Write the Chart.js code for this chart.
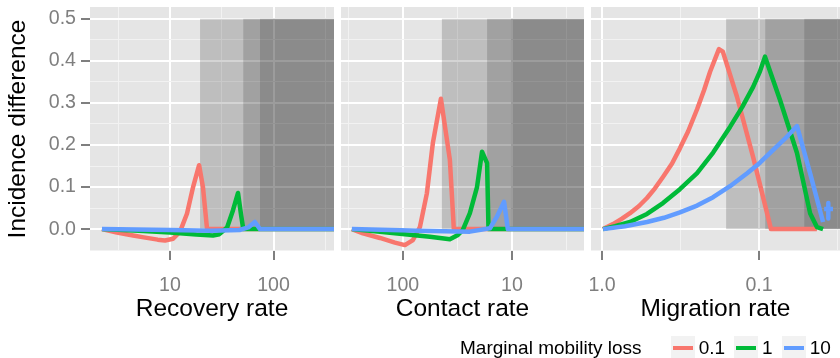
<!DOCTYPE html>
<html>
<head>
<meta charset="utf-8">
<script src="https://cdn.jsdelivr.net/npm/chart.js@4.4.1/dist/chart.umd.min.js"></script>
<style>
  html, body { margin: 0; padding: 0; background: #fff; }
  #wrap { position: relative; width: 840px; height: 358px; overflow: hidden; }
  #wrap canvas { position: absolute; left: 0; top: 0; }
  #legend {
    position: absolute; left: 460px; top: 336px; height: 24px;
    display: flex; align-items: center; white-space: nowrap;
    font-family: 'Liberation Sans', Arial, sans-serif; font-size: 19px; line-height: 24px; color: #000;
  }
  #legend .title { margin-right: 29px; }
  #legend .key { position: relative; width: 24px; height: 24px; background: #F2F2F2; }
  #legend .key i { position: absolute; left: 2px; right: 2px; top: 10px; height: 4px; }
  #legend .lab { margin-left: 4px; margin-right: 9px; }
</style>
</head>
<body>
<div id="wrap">
  <canvas id="recoveryChart" width="840" height="358"></canvas>
  <canvas id="contactChart" width="840" height="358"></canvas>
  <canvas id="migrationChart" width="840" height="358"></canvas>
  <div id="legend"></div>
</div>
<script>
// --- Series: marginal mobility loss ---
const lossLabels = ['0.1', '1', '10'];
const lossColors = ['#F8766D', '#00BA38', '#619CFF'];

// --- Shared y axis ---
const yMin = -0.052;
const yMax = 0.528;
const yTicks = [-0.05, 0, 0.05, 0.1, 0.15, 0.2, 0.25, 0.3, 0.35, 0.4, 0.45, 0.5];
const yTickLabels = ['', '0.0', '', '0.1', '', '0.2', '', '0.3', '', '0.4', '', '0.5'];
const shadeRange = [0, 0.5];

// --- Recovery rate panel ---
const recoveryRange = [1.686, 384];
const recoveryTicks = [3.162, 10, 31.62, 100, 316.2];
const recoveryTickLabels = ['', '10', '', '100', ''];
const recoveryShade = [19.5, 51, 74];
const recoveryX01 = [2.2, 3.07, 4.4, 5.4, 6.4, 7.6, 8.95, 10.7, 12.5, 14.6, 16.7, 19.1, 20.8, 22.8, 384];
const recoveryY01 = [0, -0.008, -0.015, -0.019, -0.022, -0.025, -0.027, -0.023, -0.006, 0.037, 0.1, 0.152, 0.1, 0, 0];
const recoveryX1 = [2.2, 5, 10, 18, 26, 30, 35.6, 40.6, 45.4, 48.5, 51, 384];
const recoveryY1 = [0, -0.004, -0.008, -0.013, -0.015, -0.012, 0.004, 0.045, 0.086, 0.035, 0, 0];
const recoveryX10 = [2.2, 10, 25, 47, 57, 66, 74, 384];
const recoveryY10 = [0, -0.002, -0.004, -0.002, 0.004, 0.017, 0, 0];

// --- Contact rate panel (reversed) ---
const contactRange = [2.18, 370];
const contactTicks = [316.2, 100, 31.62, 10, 3.162];
const contactTickLabels = ['', '100', '', '10', ''];
const contactShade = [43.9, 16.9, 10.2];
const contactX01 = [294, 232.6, 162.5, 118.4, 96, 80.9, 69.8, 60.3, 53.1, 44.8, 37.1, 34.1, 2.18];
const contactY01 = [0, -0.01, -0.021, -0.032, -0.038, -0.026, 0.005, 0.085, 0.205, 0.31, 0.165, 0, 0];
const contactX1 = [294, 162.5, 96, 56.5, 37.1, 31.3, 28.2, 24.3, 20.9, 18.8, 16.9, 16.4, 2.18];
const contactY1 = [0, -0.006, -0.012, -0.018, -0.024, -0.014, -0.002, 0.038, 0.1, 0.184, 0.157, 0, 0];
const contactX10 = [294, 69.8, 24.3, 15.9, 13.7, 11.8, 10.9, 2.18];
const contactY10 = [0, -0.004, -0.006, 0.002, 0.03, 0.065, 0, 0];

// --- Migration rate panel (reversed) ---
const migrationRange = [0.0305, 1.175];
const migrationTicks = [1, 0.3162, 0.1, 0.03162];
const migrationTickLabels = ['1.0', '', '0.1', ''];
const migrationShade = [0.162, 0.0913, 0.0515];
const migrationX01 = [0.985, 0.851, 0.746, 0.663, 0.581, 0.517, 0.460, 0.409, 0.358, 0.319, 0.283, 0.248, 0.224, 0.205, 0.188, 0.180, 0.170, 0.138, 0.109, 0.0889, 0.0839, 0.0428];
const migrationY01 = [0, 0.012, 0.025, 0.038, 0.055, 0.074, 0.097, 0.124, 0.156, 0.192, 0.232, 0.285, 0.33, 0.374, 0.41, 0.428, 0.422, 0.314, 0.171, 0.038, 0, 0];
const migrationX1 = [0.985, 0.826, 0.663, 0.517, 0.409, 0.319, 0.248, 0.196, 0.153, 0.128, 0.109, 0.0986, 0.0916, 0.0735, 0.0573, 0.0473, 0.0428, 0.0391];
const migrationY1 = [0, 0.007, 0.017, 0.036, 0.062, 0.095, 0.133, 0.182, 0.243, 0.29, 0.338, 0.375, 0.41, 0.307, 0.181, 0.038, 0.005, 0];
const migrationX10 = [0.985, 0.714, 0.517, 0.403, 0.319, 0.248, 0.196, 0.153, 0.119, 0.0986, 0.0815, 0.0683, 0.0573, 0.0473, 0.0391, 0.0385, 0.0385, 0.0338, 0.0362, 0.0362, 0.0362];
const migrationY10 = [0, 0.007, 0.017, 0.027, 0.04, 0.056, 0.076, 0.102, 0.133, 0.158, 0.188, 0.215, 0.245, 0.133, 0.017, null, 0.048, 0.048, null, 0.062, 0.025];

// --- Styling ---
const FONT = "'Liberation Sans', Arial, Helvetica, sans-serif";
Chart.defaults.font.family = FONT;
const shadeFills = ['rgba(0,0,0,0.17)', 'rgba(0,0,0,0.15)', 'rgba(0,0,0,0.135)'];
const tickGrey = '#7F7F7F';

function points(xs, ys) {
  return xs.map((x, i) => ({ x: x, y: ys[i] }));
}

function setTicks(values, labels) {
  return scale => {
    scale.ticks = values.map((v, i) => ({ value: v, isMajor: labels[i] !== '' }));
  };
}

// keep the plot areas exactly where the layout padding puts them
function noOverflow(s) {
  s.paddingTop = 0; s.paddingBottom = 0; s.paddingLeft = 0; s.paddingRight = 0;
}

const isMajor = ctx => !!(ctx.tick && ctx.tick.isMajor);
const gridOpts = {
  color: ctx => isMajor(ctx) ? '#FFFFFF' : '#F2F2F2',
  lineWidth: ctx => isMajor(ctx) ? 2 : 1,
  tickColor: ctx => isMajor(ctx) ? tickGrey : 'rgba(0,0,0,0)',
  tickWidth: 2,
  tickLength: 9
};

// background + shaded regions, placed through the chart's own scales
const panelPainter = {
  id: 'panelPainter',
  beforeDraw(chart) {
    const { ctx, chartArea: a } = chart;
    ctx.save();
    ctx.fillStyle = '#E5E5E5';
    ctx.fillRect(a.left, a.top, a.width, a.height);
    ctx.restore();
  },
  beforeDatasetsDraw(chart, args, opts) {
    const { ctx, chartArea: a, scales: { x, y } } = chart;
    const top = y.getPixelForValue(shadeRange[1]);
    const bottom = y.getPixelForValue(shadeRange[0]);
    ctx.save();
    opts.starts.forEach((s, i) => {
      const left = x.getPixelForValue(s);
      ctx.fillStyle = shadeFills[i];
      ctx.fillRect(left, top, a.right - left, bottom - top);
    });
    ctx.restore();
  }
};

function makePanel(id, cfg) {
  const datasets = cfg.series.map((s, i) => ({
    label: lossLabels[i],
    data: points(s[0], s[1]),
    borderColor: lossColors[i],
    backgroundColor: lossColors[i],
    borderWidth: 4.5,
    pointRadius: 0,
    tension: 0,
    borderJoinStyle: 'round',
    spanGaps: false,
    clip: 0,
    order: 3 - i
  }));

  const yAxis = {
    type: 'linear',
    min: yMin,
    max: yMax,
    afterBuildTicks: setTicks(yTicks, yTickLabels),
    border: { display: false },
    grid: Object.assign({}, gridOpts, { drawTicks: cfg.showY }),
    ticks: {
      display: cfg.showY,
      autoSkip: false,
      padding: 5,
      color: tickGrey,
      font: { size: 19.6 },
      callback: (v, i) => yTickLabels[i]
    },
    title: {
      display: cfg.showY,
      text: 'Incidence difference',
      color: '#000',
      font: { size: 24.5 },
      padding: { top: 4, bottom: 0 }
    },
    afterFit: s => { s.width = cfg.showY ? 90 : 0; noOverflow(s); }
  };

  return new Chart(document.getElementById(id), {
    type: 'line',
    data: { datasets },
    options: {
      responsive: false,
      animation: false,
      devicePixelRatio: 1,
      layout: { padding: cfg.padding },
      plugins: {
        legend: { display: false },
        tooltip: { enabled: false },
        panelPainter: { starts: cfg.shade }
      },
      scales: {
        x: {
          type: 'logarithmic',
          bounds: 'data',
          min: cfg.range[0],
          max: cfg.range[1],
          reverse: cfg.reverse,
          afterBuildTicks: setTicks(cfg.ticks, cfg.labels),
          border: { display: false },
          grid: gridOpts,
          ticks: {
            autoSkip: false,
            maxRotation: 0,
            padding: 14,
            color: tickGrey,
            font: { size: 19.6 },
            callback: (v, i) => cfg.labels[i]
          },
          title: {
            display: true,
            text: cfg.title,
            color: '#000',
            font: { size: 24.5 },
            padding: { top: 0, bottom: 34 }
          },
          afterFit: s => { s.height = 107; noOverflow(s); }
        },
        y: yAxis
      }
    },
    plugins: [panelPainter]
  });
}

makePanel('recoveryChart', {
  title: 'Recovery rate',
  range: recoveryRange, reverse: false,
  ticks: recoveryTicks, labels: recoveryTickLabels,
  shade: recoveryShade,
  series: [[recoveryX01, recoveryY01], [recoveryX1, recoveryY1], [recoveryX10, recoveryY10]],
  showY: true,
  padding: { left: 0, right: 506, top: 7, bottom: 0 }
});

makePanel('contactChart', {
  title: 'Contact rate',
  range: contactRange, reverse: true,
  ticks: contactTicks, labels: contactTickLabels,
  shade: contactShade,
  series: [[contactX01, contactY01], [contactX1, contactY1], [contactX10, contactY10]],
  showY: false,
  padding: { left: 341, right: 256, top: 7, bottom: 0 }
});

makePanel('migrationChart', {
  title: 'Migration rate',
  range: migrationRange, reverse: true,
  ticks: migrationTicks, labels: migrationTickLabels,
  shade: migrationShade,
  series: [[migrationX01, migrationY01], [migrationX1, migrationY1], [migrationX10, migrationY10]],
  showY: false,
  padding: { left: 591, right: 0, top: 7, bottom: 0 }
});

// --- Legend (built from the series arrays) ---
const legend = document.getElementById('legend');
const legTitle = document.createElement('span');
legTitle.className = 'title';
legTitle.textContent = 'Marginal mobility loss';
legend.appendChild(legTitle);
lossLabels.forEach((lab, i) => {
  const key = document.createElement('span');
  key.className = 'key';
  const line = document.createElement('i');
  line.style.background = lossColors[i];
  key.appendChild(line);
  const txt = document.createElement('span');
  txt.className = 'lab';
  txt.textContent = lab;
  legend.appendChild(key);
  legend.appendChild(txt);
});
</script>
</body>
</html>
